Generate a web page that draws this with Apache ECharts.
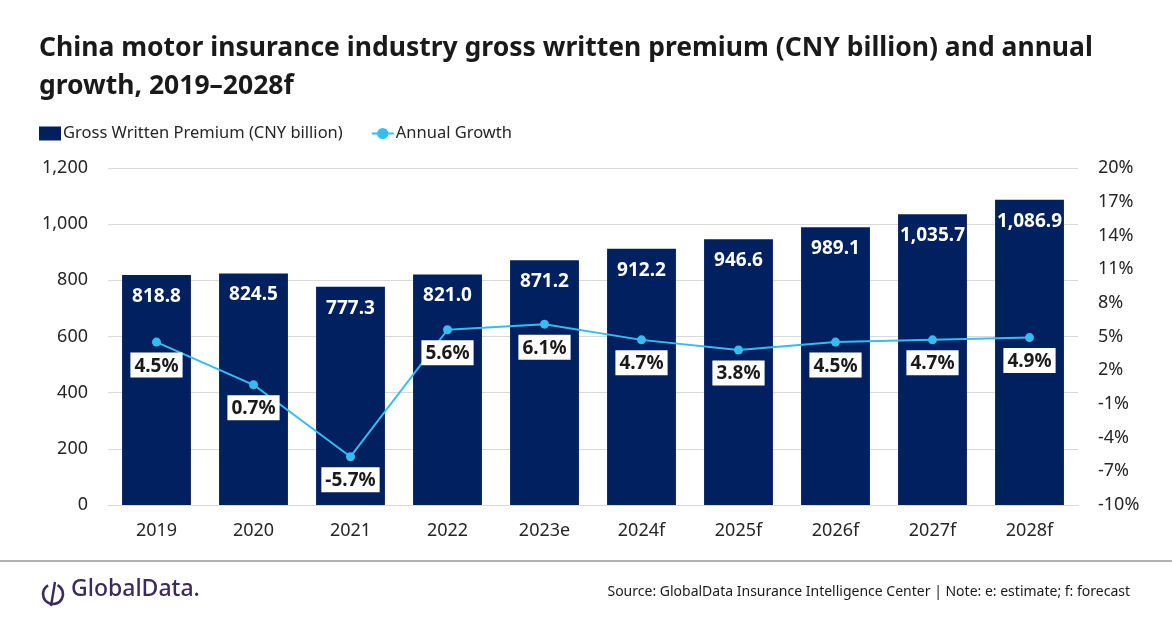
<!DOCTYPE html>
<html>
<head>
<meta charset="utf-8">
<script src="https://cdn.jsdelivr.net/npm/echarts@6/dist/echarts.min.js"></script>
<style>
  html, body { margin: 0; padding: 0; background: #fff; }
  #chart { width: 1172px; height: 628px; }
</style>
</head>
<body>
<div id="chart"></div>
<script>
// data
const years = ['2019', '2020', '2021', '2022', '2023e', '2024f', '2025f', '2026f', '2027f', '2028f'];
const premium = [818.8, 824.5, 777.3, 821.0, 871.2, 912.2, 946.6, 989.1, 1035.7, 1086.9];
const growth = [4.5, 0.7, -5.7, 5.6, 6.1, 4.7, 3.8, 4.5, 4.7, 4.9];
// right axis runs -10% .. 20% in steps of 3, shifted so min sits on a tick
const growthMin = -10;
const growthMax = 20;
const growthStep = 3;

const font = '"Noto Sans", sans-serif';
const navy = '#002060';
const sky = '#35bdf2';

const chart = echarts.init(document.getElementById('chart'));

const option = {
  backgroundColor: '#fff',
  animation: false,
  textStyle: { fontFamily: font },
  title: {
    text: 'China motor insurance industry gross written premium (CNY billion) and annual\ngrowth, 2019\u20132028f',
    left: 34,
    top: 24,
    textStyle: {
      fontFamily: font,
      fontSize: 26.5,
      fontWeight: 'bold',
      color: '#1a1a1a',
      lineHeight: 38
    }
  },
  legend: {
    left: 34,
    top: 120,
    itemGap: 28,
    itemWidth: 22,
    itemHeight: 14,
    textStyle: { fontSize: 16.5, color: '#262626', padding: [0, 0, 0, -3] },
    data: [
      { name: 'Gross Written Premium (CNY billion)', icon: 'rect' },
      { name: 'Annual Growth' }
    ]
  },
  grid: {
    left: 108,
    right: 94,
    top: 168,
    bottom: 123
  },
  xAxis: {
    type: 'category',
    data: years,
    axisTick: { show: false },
    axisLine: { lineStyle: { color: '#d9d9d9' } },
    axisLabel: { color: '#262626', fontSize: 18, margin: 17 }
  },
  yAxis: [
    {
      type: 'value',
      min: 0,
      max: 1200,
      interval: 200,
      axisLine: { show: false },
      axisTick: { show: false },
      axisLabel: {
        color: '#262626',
        fontSize: 18,
        margin: 20,
        formatter: v => v.toLocaleString('en-US')
      },
      splitLine: { lineStyle: { color: '#d9d9d9', width: 1 } }
    },
    {
      type: 'value',
      min: 0,
      max: growthMax - growthMin,
      interval: growthStep,
      axisLine: { show: false },
      axisTick: { show: false },
      splitLine: { show: false },
      axisLabel: {
        color: '#262626',
        fontSize: 18,
        margin: 20,
        formatter: v => (v + growthMin) + '%'
      }
    }
  ],
  series: [
    {
      name: 'Gross Written Premium (CNY billion)',
      type: 'bar',
      data: premium,
      barWidth: '71%',
      itemStyle: { color: navy },
      label: {
        show: true,
        position: 'insideTop',
        distance: 12,
        color: '#fff',
        fontSize: 19,
        fontWeight: 'bold',
        formatter: p => p.value.toLocaleString('en-US', { minimumFractionDigits: 1, maximumFractionDigits: 1 })
      }
    },
    {
      name: 'Annual Growth',
      type: 'line',
      yAxisIndex: 1,
      data: growth.map(g => g - growthMin),
      symbol: 'circle',
      symbolSize: 9,
      lineStyle: { color: sky, width: 2 },
      itemStyle: { color: sky },
      label: {
        show: true,
        position: 'bottom',
        distance: 6,
        backgroundColor: '#fff',
        padding: [4, 4, 2, 4],
        color: '#1a1a1a',
        fontSize: 19,
        fontWeight: 'bold',
        formatter: p => growth[p.dataIndex].toFixed(1) + '%'
      },
      z: 5
    }
  ],
  graphic: [
    {
      type: 'line',
      shape: { x1: 0, y1: 561, x2: 1172, y2: 561 },
      style: { stroke: '#999', lineWidth: 1.5 }
    },
    // GlobalData logo
    {
      type: 'arc',
      shape: { cx: 53, cy: 594, r: 10, startAngle: -1.1, endAngle: 4.2 },
      style: { stroke: '#3b2a5e', lineWidth: 2.6, fill: null }
    },
    {
      type: 'line',
      shape: { x1: 55, y1: 582, x2: 51, y2: 606 },
      style: { stroke: '#3b2a5e', lineWidth: 2.4 }
    },
    {
      type: 'text',
      left: 71,
      top: 578,
      style: {
        text: 'GlobalData.',
        fontFamily: font,
        fontSize: 23,
        fontWeight: 500,
        fill: '#3b2a5e'
      }
    },
    {
      type: 'text',
      right: 42,
      top: 585,
      style: {
        text: 'Source: GlobalData Insurance Intelligence Center | Note: e: estimate; f: forecast',
        fontFamily: font,
        fontSize: 14,
        fill: '#1a1a1a'
      }
    }
  ]
};

chart.setOption(option);
</script>
</body>
</html>
